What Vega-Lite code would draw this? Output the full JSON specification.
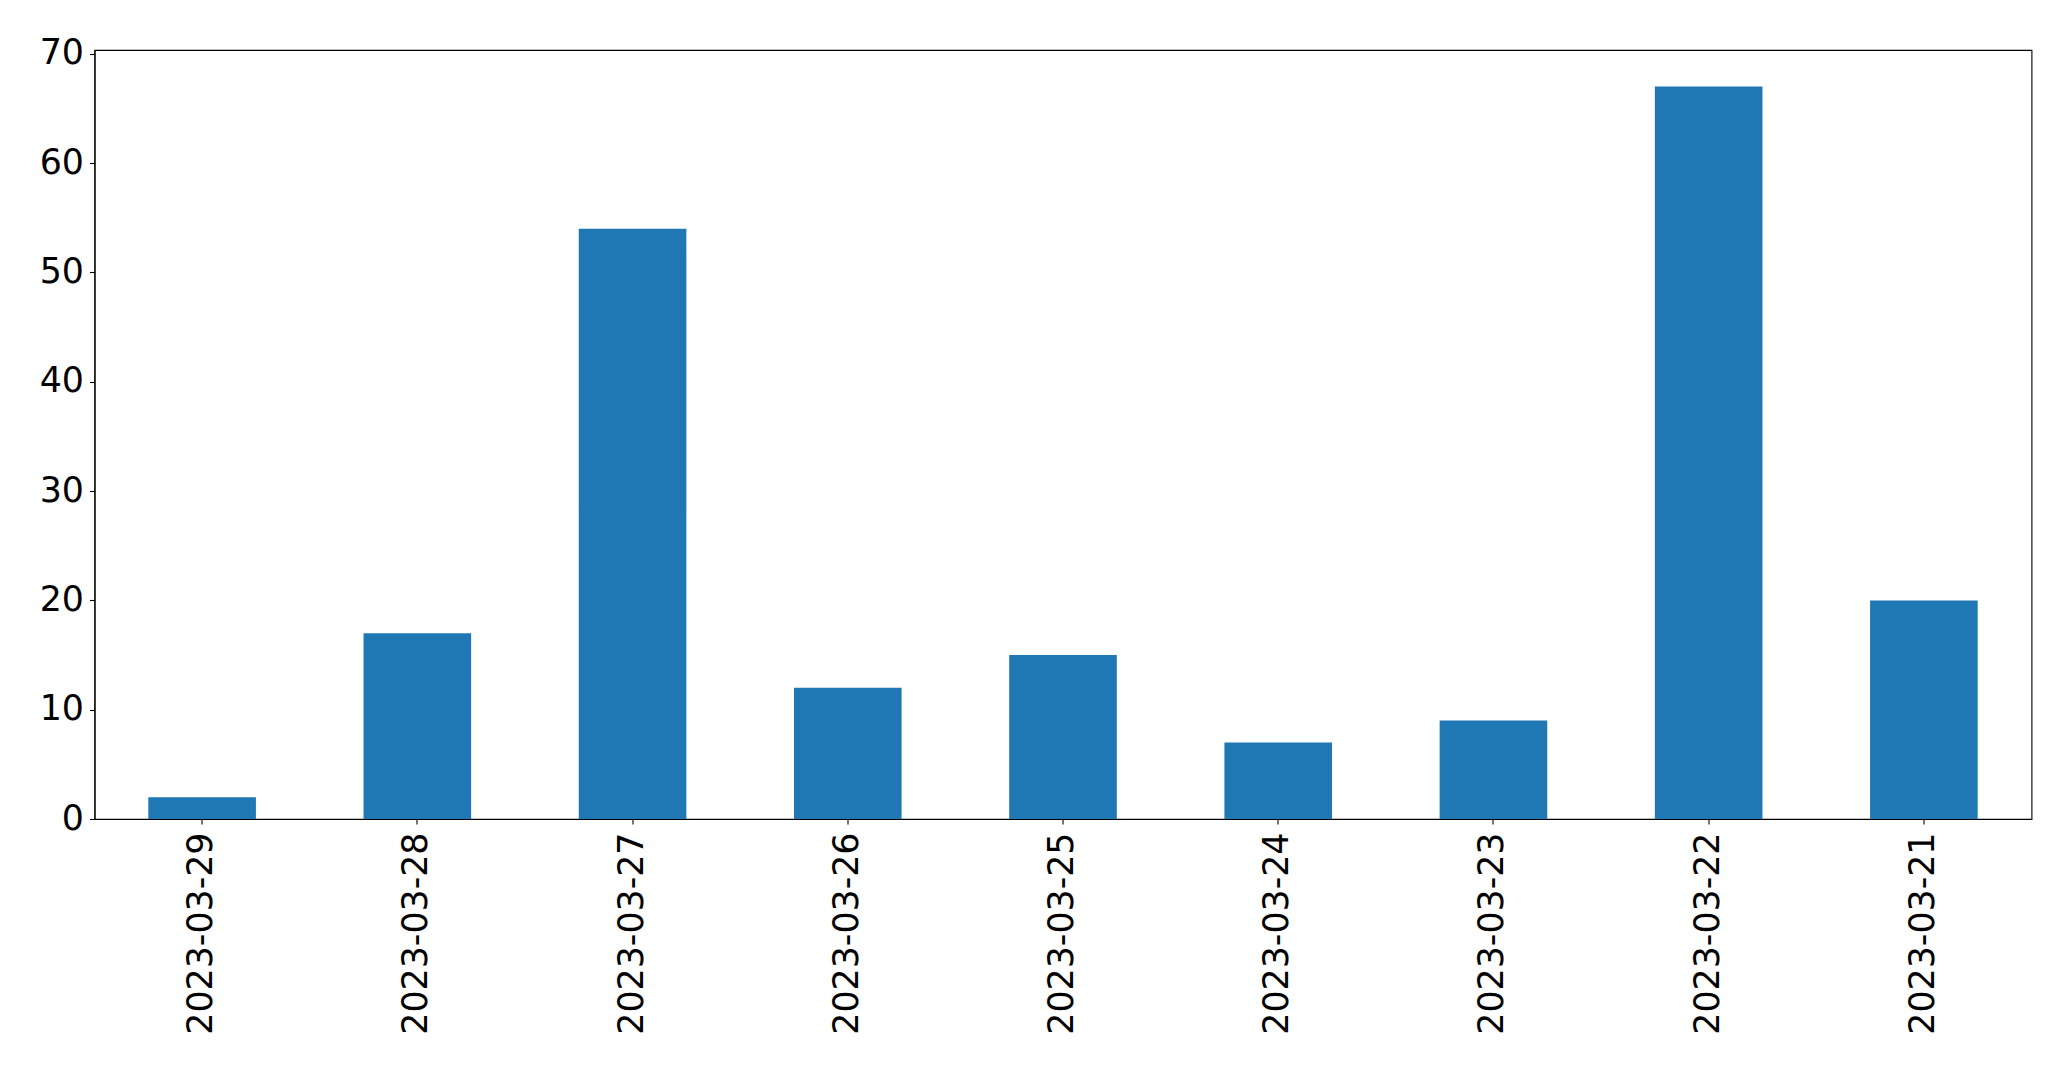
{
  "$schema": "https://vega.github.io/schema/vega-lite/v6.json",
  "autosize": "none",
  "width": 1937,
  "height": 769,
  "padding": {"left": 94.5, "top": 50, "right": 40, "bottom": 252},
  "background": "white",
  "config": {
    "view": {"stroke": "black", "strokeWidth": 1.1},
    "axis": {
      "labelFont": "DejaVu Sans",
      "labelFontSize": 34.8,
      "labelColor": "black",
      "labelLimit": 0,
      "domainColor": "black",
      "domainWidth": 1.1,
      "tickColor": "black",
      "tickWidth": 1.1,
      "tickSize": 5,
      "grid": false,
      "title": null
    }
  },
  "data": {
    "values": [
      {"date": "2023-03-29", "count": 2},
      {"date": "2023-03-28", "count": 17},
      {"date": "2023-03-27", "count": 54},
      {"date": "2023-03-26", "count": 12},
      {"date": "2023-03-25", "count": 15},
      {"date": "2023-03-24", "count": 7},
      {"date": "2023-03-23", "count": 9},
      {"date": "2023-03-22", "count": 67},
      {"date": "2023-03-21", "count": 20}
    ]
  },
  "mark": {"type": "bar", "color": "#1f77b4"},
  "encoding": {
    "x": {
      "field": "date",
      "type": "nominal",
      "sort": null,
      "scale": {"paddingInner": 0.5, "paddingOuter": 0.25},
      "axis": {"labelAngle": 270, "labelAlign": "right", "labelBaseline": "middle", "labelPadding": 8}
    },
    "y": {
      "field": "count",
      "type": "quantitative",
      "scale": {"domain": [0, 70.35], "nice": false, "zero": true},
      "axis": {"values": [0, 10, 20, 30, 40, 50, 60, 70], "labelPadding": 6}
    }
  }
}
